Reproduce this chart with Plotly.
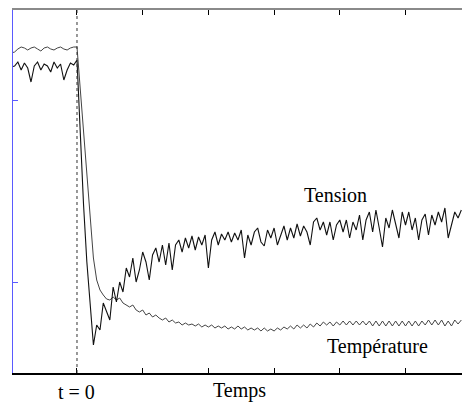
import numpy as np
import plotly.graph_objects as go

# time samples (arbitrary units, t = 0 at the step)
t = np.arange(-100, 590, 5)

tension = [306, 307, 311, 303, 310, 305, 291, 307, 311, 303, 309, 307, 301, 311, 305, 309, 293, 303, 310, 308,
           313,
           238, 168, 111, 68, 28,
           48, 43, 70, 61, 53, 86, 71, 91, 81, 105,
           96, 115, 91, 103, 121, 111, 93, 118, 125, 111,
           128, 108, 130, 103, 128, 133, 121, 135, 125, 137,
           123, 136, 128, 138, 105, 133, 141, 128, 139, 133,
           141, 131, 140, 133, 143, 115, 138, 128, 141, 145,
           131, 127, 143, 135, 145, 128, 137, 147, 133, 145,
           135, 149, 137, 147, 141, 128, 151, 155, 143, 151,
           138, 151, 133, 148, 153, 141, 153, 135, 151, 143,
           158, 133, 153, 161, 141, 163, 145, 126, 155, 145,
           163, 148, 135, 161, 148, 161, 143, 155, 133, 153,
           159, 138, 158, 148, 161, 151, 165, 135, 148, 161,
           155, 163]

temperature = [320, 321, 324, 326, 325, 323, 325, 326, 324, 322, 325, 326, 324, 323, 325, 326, 324, 323, 325, 326,
               326,
               283, 240, 198, 155, 115,
               93, 83, 78, 74, 73, 76, 73, 75, 70, 68,
               66, 68, 63, 61, 63, 58, 60, 56, 58, 55,
               53, 55, 51, 53, 50, 51, 48, 50, 48, 49,
               47, 49, 46, 48, 46, 48, 45, 47, 45, 47,
               44, 46, 44, 47, 44, 46, 43, 45, 43, 45,
               42, 45, 42, 44, 42, 45, 43, 46, 44, 47,
               44, 48, 45, 48, 45, 49, 46, 50, 47, 51,
               48, 51, 47, 51, 48, 52, 48, 52, 48, 52,
               48, 52, 48, 52, 47, 52, 47, 52, 47, 52,
               47, 52, 47, 52, 47, 52, 47, 52, 47, 52,
               48, 53, 48, 53, 48, 53, 47, 52, 47, 53,
               49, 53]

x_ticks = [0, 100, 200, 300, 400, 500]
y_ticks = [91, 273]

fig = go.Figure()
fig.add_trace(go.Scatter(x=t, y=temperature, mode="lines", name="Température",
                         line=dict(color="#444444", width=1)))
fig.add_trace(go.Scatter(x=t, y=tension, mode="lines", name="Tension",
                         line=dict(color="#111111", width=1.1)))
# top axis copy (for the frame and its ticks)
fig.add_trace(go.Scatter(x=[t[0]], y=[None], xaxis="x2", showlegend=False, hoverinfo="skip"))

fig.add_shape(type="line", x0=0, x1=0, xref="x", y0=0, y1=1, yref="paper",
              line=dict(color="#333333", width=1, dash="dot"))

serif = "Liberation Serif, Times New Roman, serif"
fig.add_annotation(x=0, y=-0.053, yref="paper", yanchor="middle", xanchor="center", text="t = 0",
                   showarrow=False, font=dict(family=serif, size=20, color="black"))
fig.add_annotation(x=248, y=-0.049, yref="paper", yanchor="middle", xanchor="center", text="Temps",
                   showarrow=False, font=dict(family=serif, size=20, color="black"))
fig.add_annotation(x=393, y=178, text="Tension", showarrow=False,
                   font=dict(family=serif, size=20, color="black"))
fig.add_annotation(x=457, y=27, text="Température", showarrow=False,
                   font=dict(family=serif, size=20, color="black"))

fig.update_layout(
    width=462, height=403,
    margin=dict(l=13, r=0, t=10, b=30),
    plot_bgcolor="white", paper_bgcolor="white",
    showlegend=False,
    xaxis=dict(range=[-97.4, 586], tickvals=x_ticks, showticklabels=False,
               ticks="inside", ticklen=5, tickcolor="black", tickwidth=1,
               showline=True, linecolor="black", linewidth=1.5,
               showgrid=False, zeroline=False),
    xaxis2=dict(overlaying="x", side="top", matches="x", tickvals=x_ticks, showticklabels=False,
                ticks="inside", ticklen=5, tickcolor="black", tickwidth=1,
                showline=True, linecolor="#8a8a8a", linewidth=1.5,
                showgrid=False, zeroline=False),
    yaxis=dict(range=[0, 363], tickvals=y_ticks, showticklabels=False,
               ticks="inside", ticklen=5, tickcolor="#5a5aff", tickwidth=1,
               showline=True, linecolor="#5a5aff", linewidth=1,
               showgrid=False, zeroline=False),
)

fig.write_html("out.html", config={"displayModeBar": False},
               post_script="document.body.style.margin='0px';document.body.style.overflow='hidden';")
